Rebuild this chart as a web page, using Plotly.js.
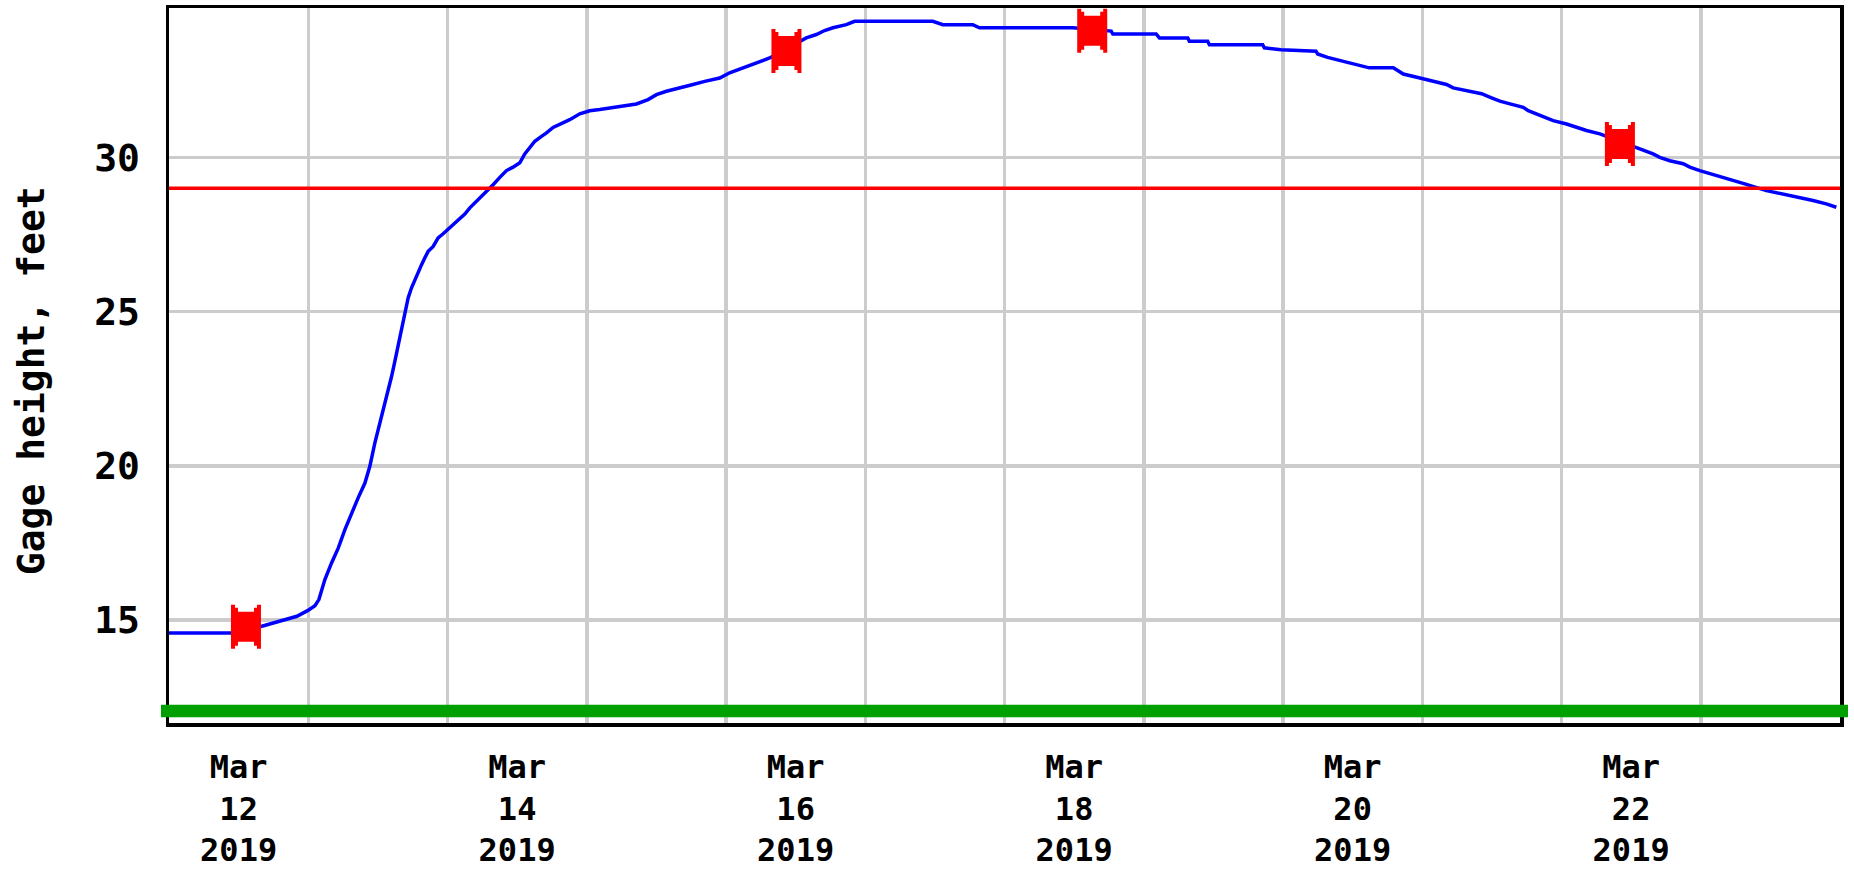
<!DOCTYPE html>
<html>
<head>
<meta charset="utf-8">
<script src="https://cdn.plot.ly/plotly-3.0.1.min.js"></script>
<style>
  html, body { margin: 0; padding: 0; background: #ffffff; }
  #chart { width: 1854px; height: 872px; }
</style>
</head>
<body>
<div id="chart"></div>
<script>
// Gage height series (time, feet)
const times = [
  '2019-03-12 00:00','2019-03-12 10:41','2019-03-12 15:51','2019-03-12 20:00','2019-03-12 22:03','2019-03-12 23:57',
  '2019-03-13 01:09','2019-03-13 01:50','2019-03-13 02:24','2019-03-13 02:52','2019-03-13 04:01','2019-03-13 05:10',
  '2019-03-13 06:19','2019-03-13 07:28','2019-03-13 08:36','2019-03-13 09:46','2019-03-13 10:37','2019-03-13 11:29',
  '2019-03-13 12:03','2019-03-13 12:38','2019-03-13 13:12','2019-03-13 13:46','2019-03-13 14:22','2019-03-13 14:56',
  '2019-03-13 15:30','2019-03-13 16:05','2019-03-13 16:39','2019-03-13 17:13','2019-03-13 17:48','2019-03-13 18:22',
  '2019-03-13 18:56','2019-03-13 19:32','2019-03-13 20:06','2019-03-13 20:40','2019-03-13 21:32','2019-03-13 22:23',
  '2019-03-13 23:15','2019-03-14 00:42','2019-03-14 01:50','2019-03-14 02:59','2019-03-14 03:51','2019-03-14 05:00',
  '2019-03-14 06:08','2019-03-14 07:00','2019-03-14 07:52','2019-03-14 09:01','2019-03-14 10:10','2019-03-14 11:18',
  '2019-03-14 12:28','2019-03-14 13:19','2019-03-14 14:11','2019-03-14 15:03','2019-03-14 16:12','2019-03-14 17:04',
  '2019-03-14 18:12','2019-03-14 19:38','2019-03-14 21:04','2019-03-14 22:48','2019-03-15 00:31','2019-03-15 02:14',
  '2019-03-15 04:32','2019-03-15 08:34','2019-03-15 10:34','2019-03-15 12:01','2019-03-15 13:44','2019-03-15 16:19',
  '2019-03-15 18:19','2019-03-15 20:20','2019-03-15 22:55','2019-03-16 00:38','2019-03-16 02:04','2019-03-16 03:31',
  '2019-03-16 04:56','2019-03-16 06:05','2019-03-16 07:31','2019-03-16 13:50','2019-03-16 15:34','2019-03-16 17:00',
  '2019-03-16 18:26','2019-03-16 20:44','2019-03-16 22:10','2019-03-17 11:39','2019-03-17 13:22','2019-03-17 18:32',
  '2019-03-17 19:41','2019-03-18 11:46','2019-03-18 18:23','2019-03-18 18:40','2019-03-19 02:08','2019-03-19 02:42',
  '2019-03-19 07:35','2019-03-19 07:52','2019-03-19 11:01','2019-03-19 11:19','2019-03-19 20:30','2019-03-19 20:47',
  '2019-03-19 23:40','2019-03-20 05:41','2019-03-20 05:58','2019-03-20 07:41','2019-03-20 09:42','2019-03-20 12:17',
  '2019-03-20 14:52','2019-03-20 19:01','2019-03-20 20:44','2019-03-20 23:36','2019-03-21 01:54','2019-03-21 04:11',
  '2019-03-21 05:20','2019-03-21 07:56','2019-03-21 10:13','2019-03-21 11:56','2019-03-21 13:23','2019-03-21 15:07',
  '2019-03-21 17:24','2019-03-21 18:16','2019-03-21 19:41','2019-03-21 21:08','2019-03-21 22:34','2019-03-22 00:52',
  '2019-03-22 02:35','2019-03-22 04:18','2019-03-22 06:37','2019-03-22 12:55','2019-03-22 14:04','2019-03-22 15:47',
  '2019-03-22 16:56','2019-03-22 18:40','2019-03-22 20:58','2019-03-22 22:07','2019-03-22 23:50','2019-03-23 01:50',
  '2019-03-23 03:51','2019-03-23 06:08','2019-03-23 07:35','2019-03-23 11:19','2019-03-23 14:11','2019-03-23 17:04',
  '2019-03-23 19:21','2019-03-23 21:38','2019-03-23 23:22'
];
const gageHeight = [
  14.58,14.58,14.79,15.00,15.12,15.31,
  15.46,15.66,15.98,16.31,16.85,17.33,
  17.93,18.47,18.96,19.44,19.98,20.74,
  21.17,21.50,21.93,22.41,22.90,23.39,
  23.93,24.41,24.95,25.44,25.77,26.03,
  26.30,26.52,26.74,26.95,27.11,27.39,
  27.52,27.76,27.98,28.16,28.36,28.57,
  28.79,28.95,29.11,29.35,29.57,29.68,
  29.82,30.11,30.30,30.52,30.68,30.79,
  30.97,31.08,31.22,31.41,31.51,31.55,
  31.62,31.73,31.87,32.03,32.14,32.25,
  32.36,32.46,32.57,32.74,32.84,32.95,
  33.03,33.14,33.22,33.87,33.98,34.11,
  34.20,34.30,34.41,34.41,34.30,34.30,
  34.20,34.20,34.09,34.00,34.00,33.87,
  33.87,33.76,33.76,33.65,33.65,33.55,
  33.49,33.44,33.35,33.24,33.14,33.03,
  32.90,32.90,32.70,32.57,32.46,32.36,
  32.25,32.14,32.06,31.93,31.82,31.73,
  31.62,31.51,31.41,31.30,31.19,31.08,
  30.97,30.87,30.76,30.32,30.22,30.11,
  30.00,29.89,29.79,29.68,29.57,29.46,
  29.35,29.24,29.14,28.92,28.81,28.70,
  28.60,28.49,28.38
];

// Red measurement markers
const markerTimes = ['2019-03-12 13:16','2019-03-16 10:25','2019-03-18 15:07','2019-03-22 10:04'];
const markerValues = [14.78, 33.45, 34.10, 30.43];

// Reference levels
const floodStage = 29.0;
const lowLevel = 12.05;

// X axis tick labels (centred at noon)
const tickTimes = ['2019-03-12 12:00','2019-03-14 12:00','2019-03-16 12:00','2019-03-18 12:00','2019-03-20 12:00','2019-03-22 12:00'];
const tickLabels = ['Mar<br>12<br>2019','Mar<br>14<br>2019','Mar<br>16<br>2019','Mar<br>18<br>2019','Mar<br>20<br>2019','Mar<br>22<br>2019'];

const yTitle = 'Gage height, feet';

const xRange = ['2019-03-12 00:00','2019-03-24 00:00'];
const yRange = [11.66, 34.84];

const monoFont = 'DejaVu Sans Mono, Liberation Mono, monospace';

const spoolPath = 'M -15 -22 H -11 V -19 H -8 V -15 H 8 V -19 H 11 V -22 H 15 V 22 H 11 V 19 H 8 V 15 H -8 V 19 H -11 V 22 H -15 Z';

const shapes = [
  { type: 'line', xref: 'paper', yref: 'y', x0: 0, x1: 1, y0: floodStage, y1: floodStage,
    line: { color: '#ff0000', width: 3.5 } },
  { type: 'line', xref: 'paper', yref: 'y', x0: -0.0048, x1: 1.0048, y0: lowLevel, y1: lowLevel,
    line: { color: '#00a000', width: 12.5 } }
];
markerTimes.forEach((t, i) => {
  shapes.push({
    type: 'path', xref: 'x', yref: 'y',
    xsizemode: 'pixel', ysizemode: 'pixel',
    xanchor: t, yanchor: markerValues[i],
    path: spoolPath,
    fillcolor: '#ff0000', line: { width: 0 }
  });
});

const traces = [
  { x: times, y: gageHeight, type: 'scatter', mode: 'lines', xaxis: 'x2', yaxis: 'y',
    line: { color: '#0000ff', width: 3.5 }, hoverinfo: 'x+y', showlegend: false }
];

const layout = {
  width: 1854, height: 872,
  margin: { l: 169, r: 14, t: 8, b: 149 },
  paper_bgcolor: '#ffffff', plot_bgcolor: '#ffffff',
  showlegend: false,
  xaxis: {
    type: 'date', range: xRange, tick0: '2019-03-12', dtick: 86400000,
    showgrid: true, gridcolor: '#cccccc', gridwidth: 3.5,
    showticklabels: false, ticks: '', zeroline: false,
    showline: true, linecolor: '#000000', linewidth: 3.5, mirror: true
  },
  xaxis2: {
    type: 'date', range: xRange, overlaying: 'x', anchor: 'y', side: 'bottom',
    tickmode: 'array', tickvals: tickTimes, ticktext: tickLabels,
    showgrid: false, zeroline: false, showline: false, ticks: '',
    ticklabelstandoff: 22,
    tickfont: { family: monoFont, size: 32, color: '#000000', weight: 'bold' }
  },
  yaxis: {
    range: yRange, tick0: 0, dtick: 5,
    showgrid: true, gridcolor: '#cccccc', gridwidth: 3.5, zeroline: false,
    showline: true, linecolor: '#000000', linewidth: 3.5, mirror: true,
    ticks: '', ticklabelstandoff: 18,
    tickfont: { family: monoFont, size: 38, color: '#000000', weight: 'bold' }
  },
  annotations: [
    { text: yTitle, xref: 'paper', yref: 'paper', x: -0.0829, y: 0.4787,
      xanchor: 'center', yanchor: 'middle', textangle: -90, showarrow: false,
      font: { family: monoFont, size: 38, color: '#000000', weight: 'bold' } }
  ],
  shapes: shapes
};

Plotly.newPlot('chart', traces, layout, { displayModeBar: false, staticPlot: true });
</script>
</body>
</html>
